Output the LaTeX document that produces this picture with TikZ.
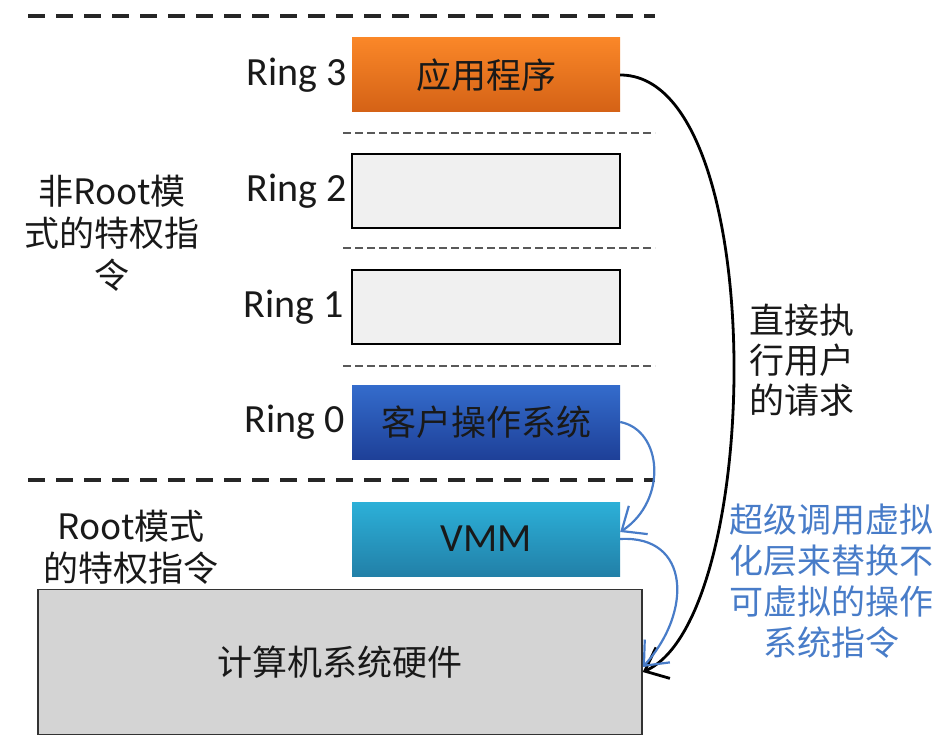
\documentclass[tikz,border=0pt]{standalone}
\usepackage{fontspec}
\setmainfont{Carlito}
\newfontfamily\cjk{Noto Sans CJK SC}
\usepackage{xcolor}
\usepackage{tikz}
\usetikzlibrary{arrows.meta}

\definecolor{apptop}{RGB}{250,135,40}
\definecolor{appbot}{RGB}{212,98,22}
\definecolor{guesttop}{RGB}{52,108,204}
\definecolor{guestbot}{RGB}{30,64,152}
\definecolor{vmmtop}{RGB}{44,176,216}
\definecolor{vmmbot}{RGB}{34,128,168}
\definecolor{emptyfill}{RGB}{240,240,240}
\definecolor{hwfill}{RGB}{212,212,212}
\definecolor{hyperblue}{RGB}{72,124,200}
\definecolor{inktext}{RGB}{25,25,25}

\begin{document}
\begin{tikzpicture}[x=1pt,y=-1pt,
    layer/.style={minimum width=268pt,minimum height=74pt,inner sep=0pt,
      text=inktext,font=\cjk\fontsize{35}{42}\selectfont},
    emptylayer/.style={layer,fill=emptyfill,draw=black,line width=1.8pt},
    ringlabel/.style={anchor=east,inner sep=0pt,text=inktext,
      font=\fontsize{40}{42}\selectfont},
    sidetext/.style={align=center,inner sep=0pt,text=inktext,
      font=\cjk\fontsize{35}{42}\selectfont},
    modeline/.style={dash pattern=on 17pt off 11pt,line width=4pt,color=black!85},
    ringline/.style={dash pattern=on 8pt off 4pt,line width=2pt,color=black!65},
    call/.style={-{Straight Barb[length=20pt,width=34pt]}}]
    \useasboundingbox (0,0) rectangle (952,746);
    % separators
    \draw[modeline] (28,16) -- (655,16);
    \draw[modeline] (28,480) -- (655,480);
    \draw[ringline] (343,133) -- (655,133);
    \draw[ringline] (343,248) -- (655,248);
    \draw[ringline] (343,366) -- (655,366);
    % layers
    \node[layer,top color=apptop,bottom color=appbot] (app) at (486,75) {应用程序};
    \node[emptylayer] (ring2) at (486,191) {};
    \node[emptylayer] (ring1) at (486,307) {};
    \node[layer,top color=guesttop,bottom color=guestbot] (guest) at (486,422) {客户操作系统};
    \node[layer,top color=vmmtop,bottom color=vmmbot,
      font=\fontsize{40}{42}\selectfont] (vmm) at (486,539) {VMM};
    \node[layer,fill=hwfill,draw=black!80,line width=1.5pt,
      minimum width=604pt,minimum height=145pt] (hw) at (340,662)
      {\raisebox{-10pt}{计算机系统硬件}};
    % ring labels
    \node[ringlabel] (r3) at (347,75) {Ring 3};
    \node[ringlabel] (r2) at (347,191) {Ring 2};
    \node[ringlabel] (r1) at (344,307) {Ring 1};
    \node[ringlabel] (r0) at (345,422) {Ring 0};
    % mode texts
    \node[sidetext] (nonroot) at (112,233) {非Root模\\式的特权指\\令};
    \node[sidetext] (root) at (131,547) {Root模式\\的特权指令};
    \node[sidetext,font=\cjk\fontsize{35}{40}\selectfont] (direct) at (802,360) {直接执\\行用户\\的请求};
    \node[sidetext,text=hyperblue,font=\cjk\fontsize{34}{41}\selectfont] (hyper) at (831,581)
      {超级调用虚拟\\化层来替换不\\可虚拟的操作\\系统指令};
    % calls
    \draw[call,line width=2.8pt,color=black] (app.east)
      .. controls +(150,0) and +(122,-55) .. ([yshift=-10pt]hw.east);
    \draw[call,line width=2.2pt,color=hyperblue] (guest.east)
      .. controls +(42,8) and +(48,-32) .. ([yshift=7pt]vmm.east);
    \draw[call,line width=2.2pt,color=hyperblue] (vmm.east)
      .. controls +(70,-4) and +(50,-55) .. ([yshift=-5pt]hw.east);
\end{tikzpicture}
\end{document}
